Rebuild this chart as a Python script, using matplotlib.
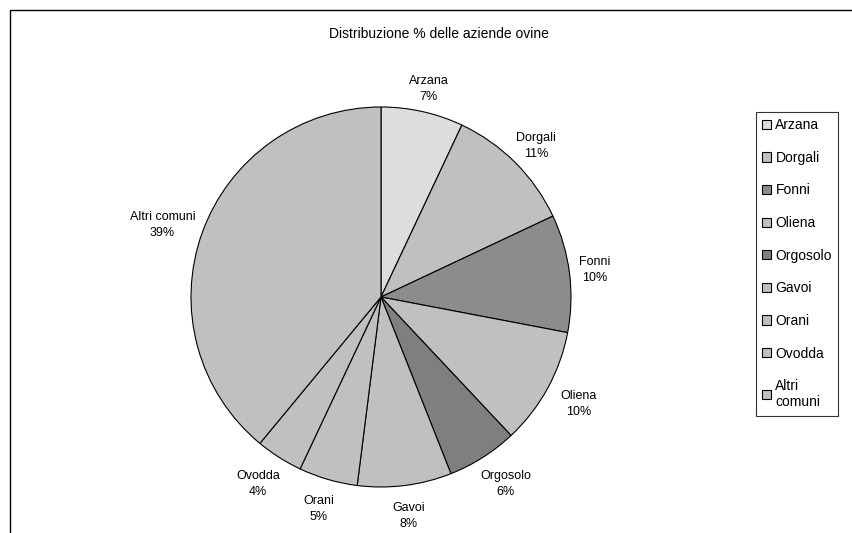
import matplotlib
matplotlib.use("Agg")
import matplotlib.pyplot as plt
from matplotlib.patches import Patch, Rectangle
import numpy as np

plt.rcParams['font.family'] = ['Liberation Sans', 'DejaVu Sans']

# Share of sheep farms per municipality (%)
comuni = ["Arzana", "Dorgali", "Fonni", "Oliena", "Orgosolo",
          "Gavoi", "Orani", "Ovodda", "Altri comuni"]
quote = [7, 11, 10, 10, 6, 8, 5, 4, 39]
legend_labels = ["Arzana", "Dorgali", "Fonni", "Oliena", "Orgosolo",
                 "Gavoi", "Orani", "Ovodda", "Altri\ncomuni"]
colori = ["#dddddd", "#c0c0c0", "#8c8c8c", "#c0c0c0", "#7f7f7f",
          "#c0c0c0", "#c0c0c0", "#c0c0c0", "#c0c0c0"]

W, H = 852, 533
fig = plt.figure(figsize=(W / 100, H / 100), dpi=100)

# outer chart frame
fig.patches.append(Rectangle((10 / W, -0.1), 1.2, 1 - 10 / H + 0.1,
                             transform=fig.transFigure, fill=False,
                             edgecolor="black", linewidth=1.0))

fig.text(439 / W, 1 - 34 / H, "Distribuzione % delle aziende ovine",
         ha="center", va="center", fontsize=10)

cx, cy, R = 381, 297, 190
ax = fig.add_axes([(cx - R) / W, (H - cy - R) / H, 2 * R / W, 2 * R / H])
wedges, _ = ax.pie(quote, colors=colori, startangle=90, counterclock=False,
                   radius=1, wedgeprops=dict(edgecolor="black", linewidth=0.8))
ax.set_xlim(-1, 1)
ax.set_ylim(-1, 1)
ax.set_aspect("equal")
ax.axis("off")

# data labels: name and percentage outside each slice
fig.canvas.draw()
renderer = fig.canvas.get_renderer()
for w, nome, v in zip(wedges, comuni, quote):
    ang = np.deg2rad((w.theta1 + w.theta2) / 2)
    ux, uy = np.cos(ang), np.sin(ang)
    t = ax.text(0, 0, f"{nome}\n{v}%", ha="center", va="center",
                fontsize=9, linespacing=1.45)
    bb = t.get_window_extent(renderer)
    hw = bb.width / 2 / R
    hh = bb.height / 2 / R
    r0 = 1.05 if uy > 0 else 1.09
    t.set_position((r0 * ux + hw * ux, r0 * uy + hh * uy))

handles = [Patch(facecolor=c, edgecolor="black", linewidth=0.8) for c in colori]
leg = fig.legend(handles, legend_labels, loc="upper left",
                 bbox_to_anchor=(756 / W, 1 - 112 / H),
                 fontsize=10, frameon=True, fancybox=False, edgecolor="black",
                 labelspacing=1.34, handlelength=0.65, handleheight=0.65,
                 handletextpad=0.3, borderpad=0.45, borderaxespad=0)
leg.get_frame().set_linewidth(0.8)

fig.savefig("out.png", dpi=100)
